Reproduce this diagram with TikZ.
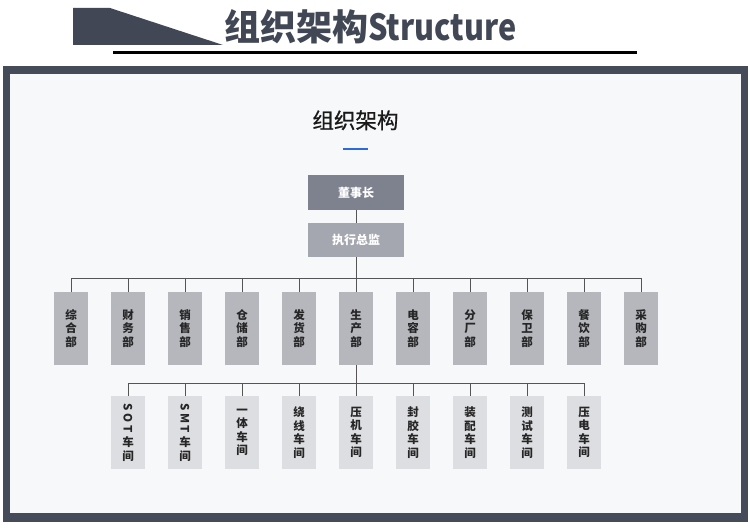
\documentclass[tikz,border=0pt]{standalone}
\usepackage{fontspec}
\usepackage{graphicx}
\newfontfamily\cjk{Noto Sans CJK SC}
\newfontfamily\cjkmed{Noto Sans CJK SC}[FakeBold=0.8]
\definecolor{hdark}{HTML}{414755}
\definecolor{frame}{HTML}{454B59}
\definecolor{panel}{HTML}{F7F8FA}
\definecolor{boss}{HTML}{7E828F}
\definecolor{exec}{HTML}{A4A7B0}
\definecolor{dept}{HTML}{B5B7BD}
\definecolor{shop}{HTML}{DDDEE1}
\definecolor{lineg}{HTML}{555555}
\definecolor{accent}{HTML}{2D6AE0}
\definecolor{txt}{HTML}{262626}
\newcommand{\rl}[1]{\rotatebox[origin=c]{-90}{#1}}
\tikzset{
  topbox/.style={minimum width=96pt, minimum height=35pt, inner sep=0pt,
    font=\cjk\bfseries\fontsize{12}{12}\selectfont, text=white},
  deptbox/.style={fill=dept, minimum width=34pt, minimum height=73pt, inner sep=0pt,
    align=center, text=txt, font=\cjk\bfseries\fontsize{11.5}{13.5}\selectfont},
  shopbox/.style={deptbox, fill=shop},
  conn/.style={draw=lineg, line width=0.9pt}
}
\begin{document}
\begin{tikzpicture}[x=1pt,y=-1pt]
\useasboundingbox (0,0) rectangle (750,532);
\fill[white] (0,0) rectangle (750,532);
% header
\fill[hdark] (73,8) -- (110,8) -- (223,45) -- (73,45) -- cycle;
\node[anchor=base west, inner sep=0pt, text=hdark, font=\cjk\bfseries\fontsize{36}{36}\selectfont] (htitle) at (224,41) {组织架构\scalebox{0.85}[1]{Structure}};
\fill[black] (113,51.5) rectangle (637,54.5);
% frame
\fill[frame] (3,66) rectangle (748,522);
\fill[panel] (10,74) rectangle (741,513);
% panel title
\node[anchor=base, inner sep=0pt, text=black!90, font=\cjkmed\fontsize{21.5}{21.5}\selectfont] (ptitle) at (355.5,128.5) {组织架构};
\fill[accent] (343,148) rectangle (368,150);
% top boxes
\node[topbox, fill=boss] (boss) at (356,192.5) {董事长};
\node[topbox, fill=exec, minimum height=34pt] (exec) at (356,240) {执行总监};
\draw[conn] (boss.south) -- (exec.north);
% departments
\foreach \i/\t in {0/综\\合\\部, 1/财\\务\\部, 2/销\\售\\部, 3/仓\\储\\部, 4/发\\货\\部, 5/生\\产\\部, 6/电\\容\\部, 7/分\\厂\\部, 8/保\\卫\\部, 9/餐\\饮\\部, 10/采\\购\\部}{
  \node[deptbox] (d\i) at ({71+57*\i},328.5) {\t};
}
\coordinate (busL) at (71,278);
\draw[conn] (busL) -- (d10.north |- busL);
\foreach \i in {0,...,10}{ \draw[conn] (d\i.north) -- (d\i.north |- busL); }
\draw[conn] (exec.south) -- (exec.south |- busL);
% workshops
\node[shopbox] (w0) at (128,432.5) {\rl{S}\\[-2.5pt]\rl{O}\\[-2.5pt]\rl{T}\\车\\间};
\node[shopbox] (w1) at (185,432.5) {\rl{S}\\[-2.5pt]\rl{M}\\[-2.5pt]\rl{T}\\车\\间};
\foreach \j/\t in {2/一\\体\\车\\间, 3/绕\\线\\车\\间, 4/压\\机\\车\\间, 5/封\\胶\\车\\间, 6/装\\配\\车\\间, 7/测\\试\\车\\间, 8/压\\电\\车\\间}{
  \node[shopbox] (w\j) at ({128+57*\j},432.5) {\t};
}
\coordinate (busW) at (128,383);
\draw[conn] (busW) -- (w8.north |- busW);
\foreach \j in {0,...,8}{ \draw[conn] (w\j.north) -- (w\j.north |- busW); }
\draw[conn] (d5.south) -- (d5.south |- busW);
\end{tikzpicture}
\end{document}
